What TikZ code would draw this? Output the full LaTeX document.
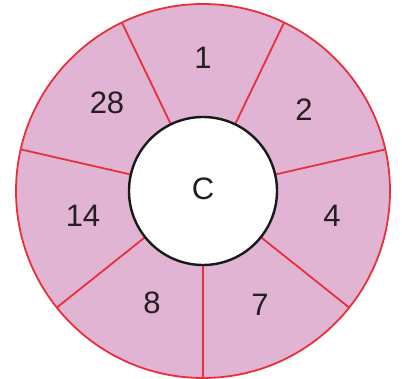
\documentclass[tikz,border=0pt]{standalone}
\usetikzlibrary{calc}
\usepackage{fontspec}
\setmainfont{Liberation Sans}
\definecolor{ringpink}{RGB}{225,180,212}
\definecolor{ringred}{RGB}{232,48,58}
\definecolor{txt}{RGB}{35,31,32}
\begin{document}
\begin{tikzpicture}[x=1pt,y=-1pt,
  lbl/.style={text=txt,font=\fontsize{31}{31}\selectfont,inner sep=0pt},
  divider/.style={draw=ringred,line width=1.8pt}]
\useasboundingbox (0,0) rectangle (402,379);
\coordinate (O) at (203,191);
\fill[ringpink] (O) circle[radius=187];
% y axis points down: angle -t here is visual angle t
\foreach \a in {90,141.43,192.86,244.29,295.71,347.14,38.57}{
  \draw[divider] ($(O)+(\a:74)$) -- ($(O)+(\a:187)$);
}
\draw[ringred,line width=1.8pt] (O) circle[radius=187];
\draw[black!90,line width=2.4pt,fill=white] (O) circle[radius=74];
\node[lbl] (c) at (203,189) {C};
\node[lbl] (n1) at (203,58) {1};
\node[lbl] (n2) at (304,110) {2};
\node[lbl] (n4) at (332,216) {4};
\node[lbl] (n7) at (260,305) {7};
\node[lbl] (n8) at (152,303) {8};
\node[lbl] (n14) at (83,216) {14};
\node[lbl] (n28) at (107,103) {28};
\end{tikzpicture}
\end{document}
